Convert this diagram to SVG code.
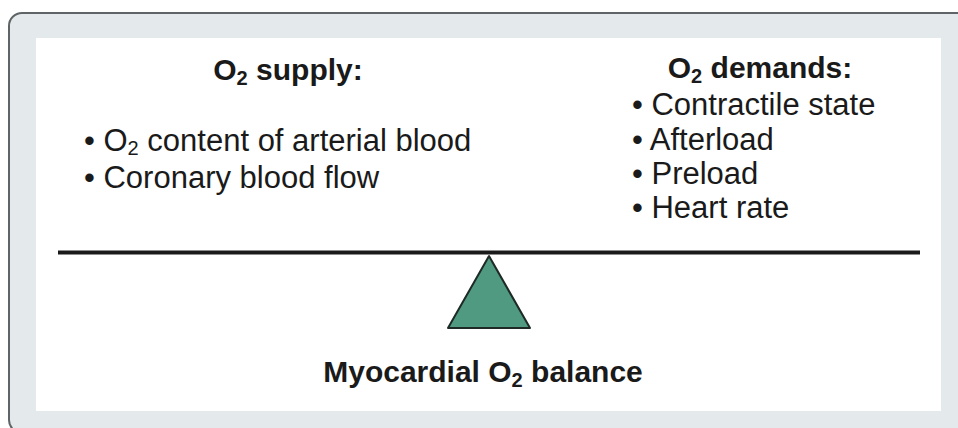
<svg xmlns="http://www.w3.org/2000/svg" width="958" height="428" viewBox="0 0 958 428">
<style>
text{font-family:"Liberation Sans",Arial,sans-serif;fill:#1a1a1a}
.h{font-weight:bold;font-size:30px}
.b{font-size:31px}
.s{font-size:20px}
</style>
<rect x="0" y="0" width="958" height="428" fill="#ffffff"/>
<g id="frame">
<rect x="9" y="13" width="965" height="420" rx="13" fill="#e4eaec" stroke="#5f6466" stroke-width="2"/>
<rect x="36" y="38" width="905" height="373" fill="#ffffff"/>
</g>
<g id="supply">
<text class="h" x="288" y="80" text-anchor="middle">O<tspan class="s" dy="5">2</tspan><tspan dy="-5"> supply:</tspan></text>
<text class="b" x="84" y="151">• O<tspan class="s" dy="4">2</tspan><tspan dy="-4"> content of arterial blood</tspan></text>
<text class="b" x="84" y="188">• Coronary blood flow</text>
</g>
<g id="demands">
<text class="h" x="760" y="78" text-anchor="middle">O<tspan class="s" dy="5">2</tspan><tspan dy="-5"> demands:</tspan></text>
<text class="b" x="632" y="115">• Contractile state</text>
<text class="b" x="632" y="150">• Afterload</text>
<text class="b" x="632" y="184">• Preload</text>
<text class="b" x="632" y="218">• Heart rate</text>
</g>
<g id="connectors">
<line x1="58" y1="252.5" x2="920" y2="252.5" stroke="#1a1a1a" stroke-width="4"/>
</g>
<g id="fulcrum">
<polygon points="489,256 448,328 530,328" fill="#4f9a80" stroke="#1e2a26" stroke-width="2" stroke-linejoin="round"/>
</g>
<g id="balance">
<text class="h" x="483" y="382" text-anchor="middle">Myocardial O<tspan class="s" dy="5">2</tspan><tspan dy="-5"> balance</tspan></text>
</g>
</svg>
